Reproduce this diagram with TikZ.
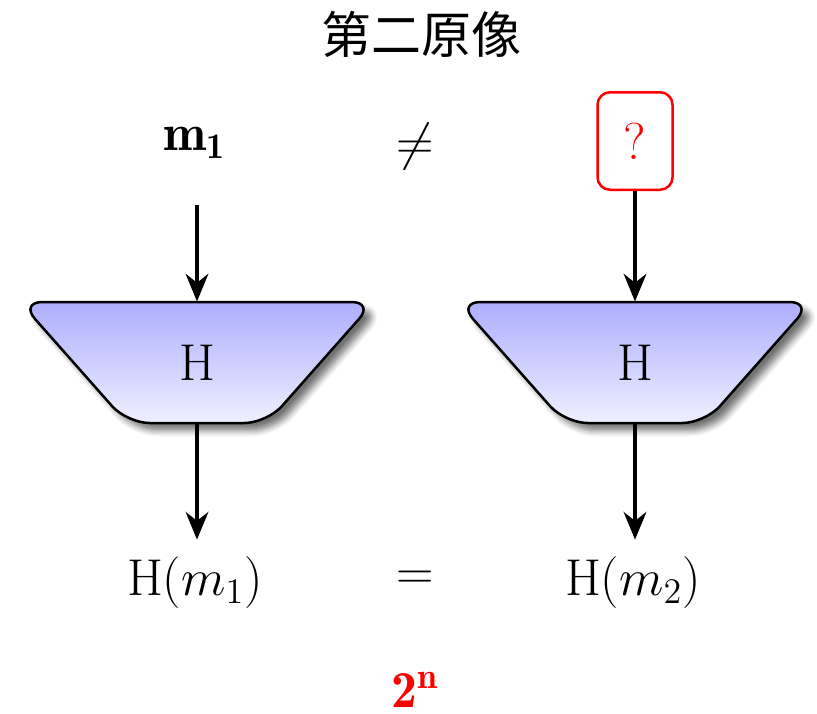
\documentclass[tikz,border=0pt]{standalone}
\usepackage{fontspec}
\usepackage{amsmath}
\newfontfamily\cjk{Noto Sans CJK SC}
\usetikzlibrary{arrows.meta,shadows.blur}
\begin{document}
\begin{tikzpicture}[x=0.4pt,y=-0.4pt,
  hashshape/.style={draw, line width=1pt, rounded corners=9pt,
    top color=blue!32, bottom color=blue!6,
    blur shadow={shadow xshift=3pt, shadow yshift=-3pt, shadow blur steps=6,
      shadow blur radius=2.5pt, shadow opacity=55}},
  hashnode/.style={minimum width=141.6pt, minimum height=48.4pt, inner sep=0pt, font=\huge},
  flow/.style={line width=1.8pt, -{Stealth[length=11pt,width=9pt,inset=3.5pt]}},
  lbl/.style={font=\huge, inner sep=0pt},
]
\useasboundingbox (0,0) rectangle (817,713);
\node[font=\fontsize{20}{24}\selectfont\cjk, inner sep=0pt] (title) at (421,34) {第二原像};
\node[lbl] (m1) at (195,143) {$\mathbf{m_1}$};
\node[lbl] (neq) at (415,147) {$\neq$};
\node[draw=red, line width=1pt, rounded corners=5pt, minimum width=30pt,
  minimum height=39pt, text=red, font=\huge, inner sep=0pt] (q) at (635,141) {?};
% hash function boxes
\path[hashshape] (20,302) -- (374,302) -- (267,423) -- (127,423) -- cycle;
\path[hashshape] (458,302) -- (812,302) -- (705,423) -- (565,423) -- cycle;
\node[hashnode] (h1) at (197,362.5) {H};
\node[hashnode] (h2) at (635,362.5) {H};
\node[lbl] (o1) at (195,583) {H$(m_1)$};
\node[lbl] (eq) at (415,580) {$=$};
\node[lbl] (o2) at (633,583) {H$(m_2)$};
\node[lbl, text=red] (pow) at (415,690) {$\mathbf{2^n}$};
\coordinate (a1) at (197,205);
\draw[flow] (a1) -- (h1.north);
\draw[flow] (q.south) -- (h2.north);
\draw[flow, shorten >=6.8pt] (h1.south) -- (h1.south |- o1.north);
\draw[flow, shorten >=6.8pt] (h2.south) -- (h2.south |- o2.north);
\end{tikzpicture}
\end{document}
